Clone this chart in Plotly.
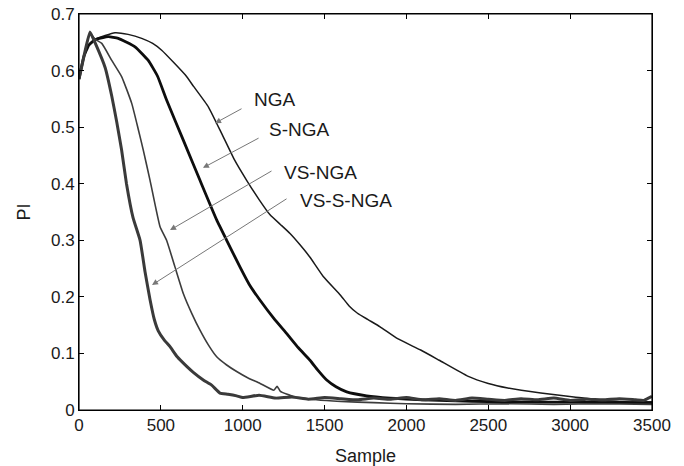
import plotly.graph_objects as go

# --- data (Sample vs PI) ---
nga_x = [0, 30, 60, 100, 160, 220, 300, 383, 450, 505, 586, 650, 700, 790, 871, 950,
         1024, 1100, 1167, 1230, 1289, 1350, 1411, 1492, 1597, 1650, 1701, 1770, 1839,
         1946, 2087, 2200, 2374, 2500, 2619, 2821, 3023, 3200, 3433, 3500]
nga_y = [0.585, 0.625, 0.645, 0.655, 0.662, 0.667, 0.664, 0.657, 0.648, 0.636, 0.612,
         0.592, 0.572, 0.536, 0.489, 0.442, 0.406, 0.372, 0.345, 0.328, 0.312, 0.292,
         0.270, 0.236, 0.203, 0.184, 0.171, 0.159, 0.147, 0.126, 0.106, 0.088, 0.060,
         0.047, 0.039, 0.030, 0.023, 0.017, 0.014, 0.014]

snga_x = [0, 30, 60, 100, 179, 240, 342, 423, 480, 535, 637, 739, 841, 902, 983, 1040,
          1106, 1190, 1269, 1340, 1411, 1460, 1513, 1570, 1635, 1757, 1900, 2100, 2300,
          2500, 2800, 3000, 3300, 3500]
snga_y = [0.585, 0.625, 0.645, 0.655, 0.660, 0.657, 0.642, 0.618, 0.590, 0.548, 0.477,
          0.406, 0.336, 0.300, 0.253, 0.222, 0.194, 0.162, 0.135, 0.110, 0.088, 0.070,
          0.053, 0.041, 0.032, 0.025, 0.021, 0.018, 0.016, 0.015, 0.014, 0.014, 0.013,
          0.013]

vsnga_x = [0, 30, 67, 100, 139, 200, 261, 322, 363, 393, 434, 495, 535, 586, 637, 690,
           739, 790, 841, 900, 963, 1030, 1106, 1190, 1210, 1230, 1309, 1450, 1600, 1800,
           2000, 2300, 2600, 2900, 3200, 3500]
vsnga_y = [0.585, 0.625, 0.665, 0.655, 0.648, 0.618, 0.589, 0.542, 0.495, 0.459, 0.406,
           0.324, 0.300, 0.253, 0.206, 0.170, 0.141, 0.115, 0.094, 0.080, 0.068, 0.057,
           0.047, 0.035, 0.042, 0.033, 0.024, 0.018, 0.015, 0.013, 0.011, 0.010, 0.011,
           0.010, 0.011, 0.010]

vssnga_x = [0, 30, 67, 100, 160, 200, 230, 260, 290, 330, 373, 403, 434, 460, 484, 520,
            556, 600, 658, 700, 759, 810, 861, 910, 963, 1000, 1100, 1200, 1300, 1400,
            1500, 1600, 1700, 1800, 1900, 2000, 2100, 2200, 2300, 2400, 2500, 2600, 2700,
            2800, 2900, 3000, 3100, 3200, 3300, 3400, 3450, 3500]
vssnga_y = [0.585, 0.625, 0.668, 0.648, 0.605, 0.555, 0.510, 0.460, 0.400, 0.340, 0.300,
            0.245, 0.195, 0.160, 0.140, 0.124, 0.112, 0.094, 0.077, 0.066, 0.053, 0.044,
            0.030, 0.028, 0.025, 0.022, 0.026, 0.021, 0.023, 0.019, 0.022, 0.020, 0.018,
            0.021, 0.019, 0.022, 0.018, 0.020, 0.017, 0.021, 0.019, 0.017, 0.020, 0.018,
            0.021, 0.017, 0.019, 0.018, 0.020, 0.018, 0.017, 0.024]

x_ticks = [0, 500, 1000, 1500, 2000, 2500, 3000, 3500]
y_ticks = [0, 0.1, 0.2, 0.3, 0.4, 0.5, 0.6, 0.7]
y_tick_text = ["0", "0.1", "0.2", "0.3", "0.4", "0.5", "0.6", "0.7"]

labels = ["NGA", "S-NGA", "VS-NGA", "VS-S-NGA"]
label_x = [1057, 1148, 1240, 1338]
label_y = [0.548, 0.495, 0.420, 0.371]
arrow_head_x = [831, 757, 556, 446]
arrow_head_y = [0.507, 0.428, 0.318, 0.221]
arrow_tail_x = [1002, 1106, 1185, 1277]
arrow_tail_y = [0.534, 0.482, 0.424, 0.375]

FONT = "Liberation Sans, Arial, Helvetica, sans-serif"

fig = go.Figure()
series = [
    (nga_x, nga_y, "#1a1a1a", 1.5),
    (snga_x, snga_y, "#0d0d0d", 2.8),
    (vsnga_x, vsnga_y, "#3c3c3c", 1.6),
    (vssnga_x, vssnga_y, "#3a3a3a", 3.0),
]
for name, (xs, ys, color, width) in zip(labels, series):
    fig.add_trace(
        go.Scatter(
            x=xs,
            y=ys,
            mode="lines",
            name=name,
            line={"color": color, "width": width, "shape": "spline", "smoothing": 0.4},
            showlegend=False,
        )
    )

for i, text in enumerate(labels):
    fig.add_annotation(
        x=arrow_head_x[i], y=arrow_head_y[i],
        ax=arrow_tail_x[i], ay=arrow_tail_y[i],
        xref="x", yref="y", axref="x", ayref="y",
        text="", showarrow=True,
        arrowhead=2, arrowsize=1.2, arrowwidth=1, arrowcolor="#777777",
        standoff=0, startstandoff=0,
    )
    fig.add_annotation(
        x=label_x[i], y=label_y[i], xref="x", yref="y",
        text=text, showarrow=False, xanchor="left", yanchor="middle",
        font={"size": 19, "color": "#1a1a1a", "family": FONT},
    )

# MATLAB-style box round the plot area
fig.add_shape(
    type="rect", xref="paper", yref="paper", x0=0, y0=0, x1=1, y1=1,
    line={"color": "#000000", "width": 1.2}, layer="above",
)

axis_common = dict(
    showline=True, linecolor="#000000", linewidth=1, mirror="ticks",
    ticks="inside", ticklen=5, tickwidth=1, tickcolor="#000000",
    showgrid=False, zeroline=False, automargin=False,
    tickfont={"size": 17, "color": "#1a1a1a", "family": FONT},
)
fig.update_xaxes(
    range=[0, 3500], tickvals=x_ticks,
    title={"text": "Sample", "font": {"size": 18, "color": "#1a1a1a", "family": FONT}},
    **axis_common,
)
fig.update_yaxes(
    range=[0, 0.7], tickvals=y_ticks, ticktext=y_tick_text,
    title={"text": "PI", "font": {"size": 18, "color": "#1a1a1a", "family": FONT}},
    **axis_common,
)
fig.update_layout(
    width=684,
    height=466,
    margin={"l": 79, "r": 32, "t": 14, "b": 56},
    plot_bgcolor="#ffffff",
    paper_bgcolor="#ffffff",
    font={"family": FONT},
)
# drop the page's default body margin so the figure sits at the window's corner
fig.write_html(
    "out.html",
    config={"displayModeBar": False},
    post_script="document.body.style.margin = '0';",
)
